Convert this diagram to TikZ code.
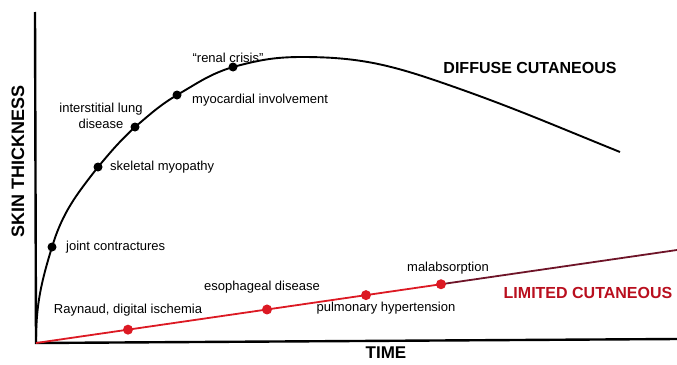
\documentclass[tikz,border=0pt]{standalone}
\usepackage{fontspec}
\setmainfont{Liberation Sans}
\usetikzlibrary{positioning,calc}
\definecolor{limred}{RGB}{220,25,35}
\definecolor{limdark}{RGB}{185,15,30}
\definecolor{limline}{RGB}{110,20,40}

\begin{document}
\begin{tikzpicture}[x=1pt,y=-1pt,
  every node/.style={font=\fontsize{13}{16}\selectfont, inner sep=1pt},
  title/.style={font=\bfseries\fontsize{16}{16}\selectfont},
  blackdot/.style={fill=black},
  reddot/.style={fill=limred}]
  \useasboundingbox (0,0) rectangle (677,364);

  % axes
  \coordinate (o) at (36,343);
  \coordinate (ytop) at (35,12);
  \coordinate (xend) at (677,339);
  \draw[line width=2.4pt] (ytop) -- (o) -- (xend);
  \node[rotate=90, font=\bfseries\fontsize{18}{18}\selectfont] (ylab) at (18,161) {SKIN THICKNESS};
  \node[font=\bfseries\fontsize{17}{17}\selectfont] (xlab) at (386,353) {TIME};

  % diffuse cutaneous: events on the curve
  \coordinate (dj) at (52,247);
  \coordinate (ds) at (98,167);
  \coordinate (di) at (135,127);
  \coordinate (dm) at (177,95);
  \coordinate (dr) at (233,67);
  \coordinate (dpeak) at (302,57);
  \coordinate (dfall) at (440,82);
  \coordinate (dend) at (620,152);
  \draw[line width=1.9pt]
    (o) to[out=90,in=-107] (dj) to[out=73,in=-128] (ds) to[out=50,in=-137] (di)
    to[out=40,in=-149] (dm) to[out=30,in=-163] (dr) to[out=15,in=180] (dpeak)
    to[out=0,in=161] (dfall) to[out=-19,in=158] (dend);
  \foreach \p in {dj,ds,di,dm,dr} \fill[blackdot] (\p) circle (4.5pt);

  \node[right=13pt of dj] (ljoint) {joint contractures};
  \node[right=11pt of ds] (lskel) {skeletal myopathy};
  \node[align=center] (llung) at (101,116) {interstitial lung\\disease};
  \node[anchor=west] (lmyo) at (191,100) {myocardial involvement};
  \node[above=3pt of dr, xshift=-5pt] (lrenal) {``renal crisis''};
  \node[title] (ldiff) at (530,68) {DIFFUSE CUTANEOUS};

  % limited cutaneous: straight line with events
  \coordinate (lend) at (677,250);
  \coordinate (lr) at ($(o)!0.1435!(lend)$);
  \coordinate (le) at ($(o)!0.3604!(lend)$);
  \coordinate (lp) at ($(o)!0.5148!(lend)$);
  \coordinate (lm) at ($(o)!0.6318!(lend)$);
  \draw[line width=1.8pt, limred] (o) -- (lm);
  \draw[line width=1.8pt, limline] (lm) -- (lend);
  \foreach \p in {lr,le,lp,lm} \fill[reddot] (\p) circle (5pt);

  \node (lray) at (128,310) {Raynaud, digital ischemia};
  \node (leso) at (262,287) {esophageal disease};
  \node (lpul) at (386,308) {pulmonary hypertension};
  \node (lmal) at (448,268) {malabsorption};
  \node[title, text=limdark] (llim) at (588,293) {LIMITED CUTANEOUS};
\end{tikzpicture}
\end{document}
